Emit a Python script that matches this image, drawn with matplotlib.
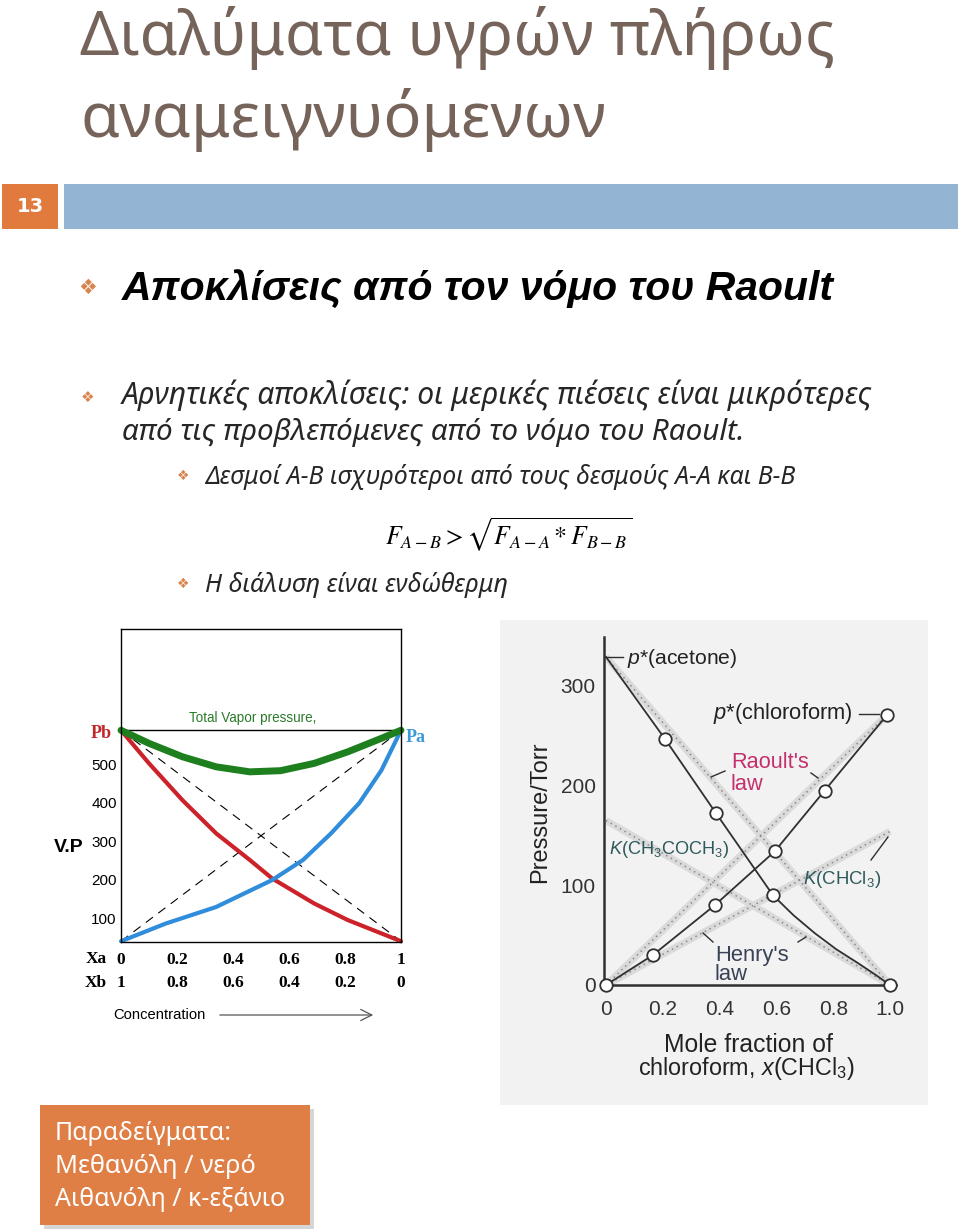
import matplotlib
matplotlib.use("Agg")
import matplotlib.pyplot as plt
import matplotlib.transforms as mtransforms
from matplotlib.lines import Line2D
from matplotlib.patches import Rectangle

plt.rcParams['font.family'] = ['Noto Sans', 'DejaVu Sans']
plt.rcParams['mathtext.fontset'] = 'custom'
plt.rcParams['mathtext.rm'] = 'Liberation Sans'
plt.rcParams['mathtext.it'] = 'Liberation Sans:italic'
plt.rcParams['mathtext.bf'] = 'Liberation Sans:bold'

W, H = 960, 1230

# ---- left chart: vapour pressure vs Xa (negative deviation) ----
xa_ticks = [0, 0.2, 0.4, 0.6, 0.8, 1]
xa_labels = ["0", "0.2", "0.4", "0.6", "0.8", "1"]
xb_labels = ["1", "0.8", "0.6", "0.4", "0.2", "0"]
vp_ticks = [100, 200, 300, 400, 500]
p_pure = 588
p_low = 40
pb_x = [0, 0.1, 0.22, 0.34, 0.46, 0.54, 0.69, 0.81, 1.0]
pb_y = [588, 502, 406, 320, 251, 203, 138, 95, 40]
pa_x = [0, 0.16, 0.34, 0.54, 0.65, 0.75, 0.85, 0.93, 1.0]
pa_y = [40, 86, 129, 199, 251, 320, 398, 484, 588]
ptot_x = [0, 0.1, 0.22, 0.34, 0.46, 0.57, 0.69, 0.81, 0.93, 1.0]
ptot_y = [588, 554, 519, 493, 480, 483, 502, 532, 567, 588]

# ---- right chart: acetone / chloroform ----
x_ticks = [0, 0.2, 0.4, 0.6, 0.8, 1.0]
x_tick_labels = ["0", "0.2", "0.4", "0.6", "0.8", "1.0"]
p_ticks = [0, 100, 200, 300]
acet_x = [0, 0.207, 0.388, 0.588, 0.66, 0.735, 0.81, 0.887, 0.95, 1.0]
acet_y = [329, 247, 172, 90, 70, 52, 36, 22, 10, 0]
acet_marks = [1, 2, 3, 9]
chl_x = [0, 0.165, 0.383, 0.594, 0.77, 0.99]
chl_y = [0, 30, 80, 134, 195, 271]
k_acet = 165
k_chl = 154


def fx(x):
    return x / W


def fy(y):
    return 1 - y / H


fig = plt.figure(figsize=(9.6, 12.3), dpi=100)
fig.patch.set_facecolor('white')
rend = fig.canvas.get_renderer()


def put(x, y, s, width=None, size=12, **kw):
    t = fig.text(fx(x), fy(y), s, fontsize=size, **kw)
    if width:
        w = t.get_window_extent(rend).width
        t.set_fontsize(size * width / w)
    return t


def rect(x0, y0, x1, y1, **kw):
    fig.add_artist(Rectangle((fx(x0), fy(y1)), (x1 - x0) / W, (y1 - y0) / H,
                             transform=fig.transFigure, **kw))


def seg(x0, y0, x1, y1, **kw):
    fig.add_artist(Line2D([fx(x0), fx(x1)], [fy(y0), fy(y1)],
                          transform=fig.transFigure, **kw))


# title
title_c = '#76645b'
put(80, 55, "Διαλύματα υγρών πλήρως", width=755, size=40, color=title_c, va='baseline')
put(80, 137, "αναμειγνυόμενων", width=525, size=40, color=title_c, va='baseline')

# header bar
rect(2, 184, 58, 229, color='#e07a3d', lw=0)
rect(64, 184, 958, 229, color='#94b4d4', lw=0)
put(30, 207, "13", size=14, color='white', weight='bold', family='DejaVu Sans',
    ha='center', va='center')

# bullets
bul = '#d8844c'
put(88, 288, "❖", size=15, color=bul, family='DejaVu Sans', ha='center', va='center')
put(122, 300, "Αποκλίσεις από τον νόμο του Raoult", width=711, size=28,
    weight='bold', style='italic', family=['Liberation Sans', 'DejaVu Sans'], va='baseline')
put(88, 397, "❖", size=11, color=bul, family='DejaVu Sans', ha='center', va='center')
put(122, 404, "Αρνητικές αποκλίσεις: οι μερικές πιέσεις είναι μικρότερες", width=750,
    size=20, style='italic', color='#262626', va='baseline')
put(122, 440, "από τις προβλεπόμενες από το νόμο του Raoult.", width=623,
    size=20, style='italic', color='#262626', va='baseline')
put(183, 476, "❖", size=10, color=bul, family='DejaVu Sans', ha='center', va='center')
put(205, 484, "Δεσμοί Α-Β ισχυρότεροι από τους δεσμούς Α-Α και Β-Β", width=590,
    size=16, style='italic', color='#262626', va='baseline')
put(385, 545, r"$F_{A-B} > \sqrt{F_{A-A} * F_{B-B}}$", width=247, size=18,
    math_fontfamily='stix', va='baseline')
put(183, 584, "❖", size=10, color=bul, family='DejaVu Sans', ha='center', va='center')
put(205, 592, "Η διάλυση είναι ενδώθερμη", width=303,
    size=16, style='italic', color='#262626', va='baseline')

# ---- left chart ----
ax1 = fig.add_axes([fx(121), fy(942), 280 / W, 313 / H])
ax1.set_xlim(0, 1)
ax1.set_ylim(38, 851)
ax1.plot([0, 1], [p_pure, p_low], ls=(0, (8, 6)), color='black', lw=0.8)
ax1.plot([0, 1], [p_low, p_pure], ls=(0, (8, 6)), color='black', lw=0.8)
ax1.axhline(p_pure, color='black', lw=1)
ax1.plot(pb_x, pb_y, color='#cc2229', lw=3, clip_on=False, solid_capstyle='round',
         solid_joinstyle='round')
ax1.plot(pa_x, pa_y, color='#2f8ddb', lw=3, clip_on=False, solid_capstyle='round',
         solid_joinstyle='round')
ax1.plot(ptot_x, ptot_y, color='#1d7f1d', lw=5, clip_on=False, solid_capstyle='round',
         solid_joinstyle='round')
for s in ax1.spines.values():
    s.set_linewidth(1)
ax1.set_yticks(vp_ticks)
ax1.set_yticklabels([str(v) for v in vp_ticks], fontsize=11, family='Liberation Sans')
ax1.set_xticks(xa_ticks)
ax1.set_xticklabels(xa_labels, fontsize=12.5, family='Liberation Serif', weight='bold')
ax1.tick_params(length=0)
ax1.tick_params(axis='y', pad=3)
ax1.tick_params(axis='x', pad=7)
tr = mtransforms.blended_transform_factory(ax1.transData, ax1.transAxes)
for xv, lab in zip(xa_ticks, xb_labels):
    ax1.text(xv, -0.131, lab, transform=tr, ha='center', va='center', fontsize=12.5,
             family='Liberation Serif', weight='bold')
put(96, 959, "Xa", size=12.5, family='Liberation Serif', weight='bold', ha='center', va='center')
put(96, 983, "Xb", size=12.5, family='Liberation Serif', weight='bold', ha='center', va='center')
put(101, 733, "Pb", size=13, family='Liberation Serif', weight='bold', color='#c0282e',
    ha='center', va='center')
put(416, 737, "Pa", size=13, family='Liberation Serif', weight='bold', color='#3a9ad8',
    ha='center', va='center')
put(69, 848, "V.P", size=14, family='Liberation Sans', weight='bold', ha='center', va='center')
put(189, 718, "Total Vapor pressure,", width=128, size=10, family='Liberation Sans',
    color='#2a7a2a', ha='left', va='center')
put(113, 1015, "Concentration", width=92, size=10, family='Liberation Sans', va='center')
fig.add_artist(matplotlib.patches.FancyArrowPatch(
    (fx(217), fy(1015)), (fx(376), fy(1015)), transform=fig.transFigure,
    arrowstyle='->,head_length=8,head_width=4', color='#555555', lw=0.9))

# ---- right chart ----
rect(500, 620, 928, 1105, color='#f2f2f2', lw=0, zorder=0)
ax2 = fig.add_axes([fx(604), fy(985), 292 / W, 348 / H])
ax2.set_facecolor('none')
ax2.set_xlim((604 - 606) / 284, (896 - 606) / 284)
ax2.set_ylim(0, 349)
band = dict(color='#dadada', lw=5, solid_capstyle='butt', zorder=1)
dots = dict(color='#8a8a8a', lw=1.1, ls=(0, (1, 2.5)), zorder=2)
for lx, ly in [([0, 1], [acet_y[0], 0]), ([0, chl_x[-1]], [0, chl_y[-1]]),
               ([0, 1], [k_acet, 0]), ([0, 1], [0, k_chl])]:
    ax2.plot(lx, ly, **band)
    ax2.plot(lx, ly, **dots)
ax2.plot(acet_x, acet_y, color='#303030', lw=1.3, zorder=3, clip_on=False,
         solid_joinstyle='round')
ax2.plot([acet_x[i] for i in acet_marks], [acet_y[i] for i in acet_marks], 'o', ms=9,
         mfc='white', mec='#303030', mew=1.3, zorder=4, clip_on=False)
ax2.plot(chl_x, chl_y, color='#303030', lw=1.3, marker='o', ms=9, mfc='white',
         mec='#303030', mew=1.3, zorder=4, clip_on=False)
for side in ['top', 'right']:
    ax2.spines[side].set_visible(False)
for side in ['left', 'bottom']:
    ax2.spines[side].set_linewidth(1.8)
    ax2.spines[side].set_color('#303030')
ax2.set_xticks(x_ticks)
ax2.set_xticklabels(x_tick_labels, fontsize=15, family='Liberation Sans', color='#333333')
ax2.set_yticks(p_ticks)
ax2.set_yticklabels([str(v) for v in p_ticks], fontsize=15, family='Liberation Sans',
                    color='#333333')
ax2.tick_params(length=0)
ax2.tick_params(axis='x', pad=11)
ax2.tick_params(axis='y', pad=6)

lab = dict(family='Liberation Sans', va='center')
put(627, 659, r"$p$*(acetone)", width=111, size=15, color='#222222', **lab)
seg(606, 657, 623, 657, color='#303030', lw=1)
put(713, 713, r"$p$*(chloroform)", width=140, size=15, color='#222222', **lab)
seg(859, 714, 879, 714, color='#303030', lw=1)
put(731, 763, "Raoult's", width=78, size=15, color='#c4306c', **lab)
put(731, 784, "law", size=fig.texts[-1].get_fontsize(), color='#c4306c', **lab)
seg(711, 777, 725, 771, color='#303030', lw=1)
seg(811, 773, 818, 778, color='#303030', lw=1)
put(609, 850, r"$K$(CH$_3$COCH$_3$)", width=120, size=15, color='#2f5a5c', **lab)
put(803, 880, r"$K$(CHCl$_3$)", width=78, size=15, color='#2f5a5c', **lab)
seg(871, 860, 888, 837, color='#303030', lw=1)
put(715, 955, "Henry's", width=74, size=15, color='#3a4256', **lab)
put(715, 975, "law", size=fig.texts[-1].get_fontsize(), color='#3a4256', **lab)
seg(703, 933, 713, 942, color='#303030', lw=1)
seg(798, 942, 806, 937, color='#303030', lw=1)
put(540, 812, "Pressure/Torr", size=17, family='Liberation Sans', color='#222222',
    rotation=90, ha='center', va='center')
put(748, 1045, "Mole fraction of", width=170, size=15, family='Liberation Sans',
    color='#222222', ha='center', va='center')
put(747, 1069, r"chloroform, $x$(CHCl$_3$)", width=218, size=15, family='Liberation Sans',
    color='#222222', ha='center', va='center')

# ---- example box ----
rect(44, 1109, 314, 1229, color='#bbbbbb', lw=0, alpha=0.6)
rect(40, 1105, 310, 1225, color='#df7f46', lw=0)
put(55, 1140, "Παραδείγματα:", width=177, size=20, color='white', va='baseline')
put(55, 1173, "Μεθανόλη / νερό", width=201, size=20, color='white', va='baseline')
put(55, 1206, "Αιθανόλη / κ-εξάνιο", width=230, size=20, color='white', va='baseline')

fig.savefig("out.png", dpi=100)
